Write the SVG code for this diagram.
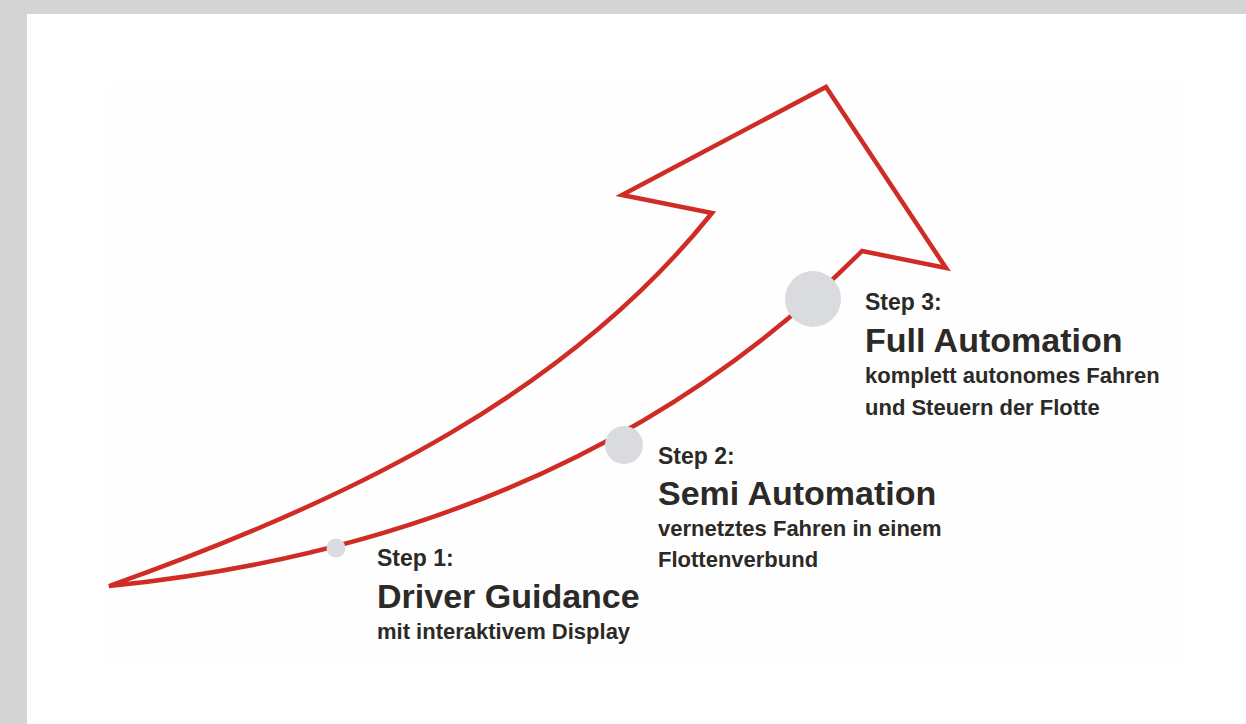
<svg xmlns="http://www.w3.org/2000/svg" width="1246" height="724" viewBox="0 0 1246 724">
<style>
.arrow{fill:none;stroke:#d02c26;stroke-width:4.5;stroke-linejoin:miter;stroke-miterlimit:5}
.dot{fill:#d9dbdf}
.t{font-family:"Liberation Sans",Arial,sans-serif;font-weight:bold;fill:#2b2a27}
.step{font-size:23px}
.title{font-size:34px}
.sub{font-size:22px}
</style>
<rect x="0" y="0" width="1246" height="724" fill="#d4d4d4"/>
<rect x="27" y="14" width="1219" height="710" fill="#ffffff"/>
<rect x="107" y="83" width="1080" height="581" fill="#fefefe"/>
<g id="connectors">
<path class="arrow" d="M109,586 C358,498 570,390 712,213 L622,195 L826,87 L946,268 L862,251 C662,451 408,556 109,586 Z"/>
</g>
<g id="step1">
<circle class="dot" cx="336" cy="548" r="9.5"/>
<text class="t step" x="377" y="566">Step 1:</text>
<text class="t title" x="377" y="608">Driver Guidance</text>
<text class="t sub" x="377" y="639">mit interaktivem Display</text>
</g>
<g id="step2">
<circle class="dot" cx="624" cy="445" r="19"/>
<text class="t step" x="658" y="464">Step 2:</text>
<text class="t title" x="658" y="505">Semi Automation</text>
<text class="t sub" x="658" y="536">vernetztes Fahren in einem</text>
<text class="t sub" x="658" y="567">Flottenverbund</text>
</g>
<g id="step3">
<circle class="dot" cx="813" cy="299" r="28"/>
<text class="t step" x="865" y="310">Step 3:</text>
<text class="t title" x="865" y="352">Full Automation</text>
<text class="t sub" x="865" y="383">komplett autonomes Fahren</text>
<text class="t sub" x="865" y="415">und Steuern der Flotte</text>
</g>
</svg>
